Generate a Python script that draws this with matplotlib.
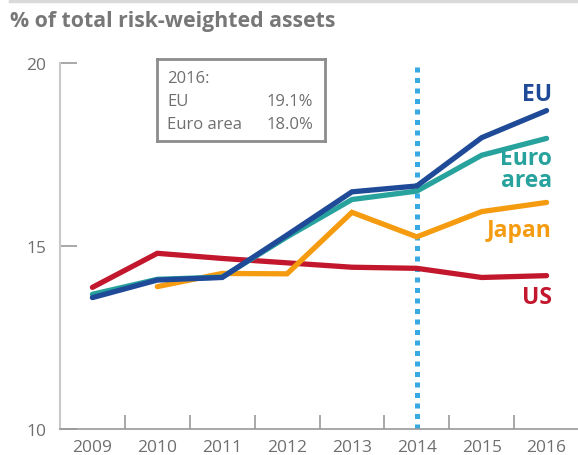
import matplotlib
matplotlib.use("Agg")
import matplotlib.pyplot as plt
import numpy as np

plt.rcParams["font.family"] = ["Open Sans", "DejaVu Sans"]

years = ["2009", "2010", "2011", "2012", "2013", "2014", "2015", "2016"]
eu = [13.59, 14.07, 14.14, 15.30, 16.48, 16.64, 17.96, 18.70]
euro_area = [13.68, 14.09, 14.15, 15.25, 16.27, 16.50, 17.48, 17.94]
japan = [np.nan, 13.89, 14.25, 14.24, 15.92, 15.25, 15.94, 16.19]
us = [13.87, 14.80, 14.66, 14.54, 14.42, 14.39, 14.14, 14.19]
marker_year = "2014"

c_eu = "#1f4a98"
c_ea = "#28a29c"
c_jp = "#f59b0f"
c_us = "#c2172d"
c_dot = "#38a9e3"
grey = "#6f6f6f"

fig = plt.figure(figsize=(5.78, 4.56), dpi=100)
ax = fig.add_axes([60 / 578, 26 / 456, 519 / 578, 366 / 456])

x = np.arange(len(years))
ax.axvline(years.index(marker_year), ymin=0, ymax=0.99, color=c_dot, lw=3.6,
           linestyle=(0, (1, 1.1)), zorder=1)
for vals, col in [(us, c_us), (japan, c_jp), (euro_area, c_ea), (eu, c_eu)]:
    ax.plot(x, vals, color=col, lw=3.8, solid_capstyle="round",
            solid_joinstyle="miter", zorder=3)

ax.set_xlim(-0.5, 7.5)
ax.set_ylim(10, 20)

# year labels sit between the boundary ticks
ax.set_xticks(np.arange(0.5, 7, 1))
ax.set_xticklabels([])
ax.set_xticks(x, minor=True)
ax.set_xticklabels(years, minor=True)
ax.tick_params(axis="x", which="major", direction="in", length=10,
               width=1.2, color="#9a9a9a")
ax.tick_params(axis="x", which="minor", length=0, pad=7,
               labelsize=12.5, labelcolor=grey)
ax.set_yticks([10, 15, 20])
ax.tick_params(axis="y", direction="in", length=12, width=1.2,
               color="#9a9a9a", labelsize=12.5, labelcolor=grey, pad=10)

for side in ["top", "right"]:
    ax.spines[side].set_visible(False)
ax.spines["left"].set_color("#c8c8c8")
ax.spines["left"].set_linewidth(1.5)
ax.spines["bottom"].set_color("#9a9a9a")
ax.spines["bottom"].set_linewidth(1.2)

# series names at the right-hand end
lab = dict(ha="right", fontsize=16.5, fontweight="bold", transform=ax.transData)
ax.text(7.08, 19.15, "EU", color=c_eu, va="center", **lab)
ax.text(7.08, 17.1, "Euro\narea", color=c_ea, va="center",
        linespacing=0.92, **lab)
ax.text(7.08, 15.45, "Japan", color=c_jp, va="center", **lab)
ax.text(7.08, 13.6, "US", color=c_us, va="center", **lab)

# 2016 summary box
box_ax = fig.add_axes([157 / 578, (456 - 142) / 456, 168 / 578, 82 / 456])
box_ax.set_xticks([])
box_ax.set_yticks([])
for s in box_ax.spines.values():
    s.set_color("#8c8c8c")
    s.set_linewidth(2)
box_ax.set_xlim(0, 1)
box_ax.set_ylim(0, 1)
bt = dict(fontsize=12, color=grey, va="center")
box_ax.text(0.06, 0.77, "2016:", ha="left", **bt)
box_ax.text(0.06, 0.49, "EU", ha="left", **bt)
box_ax.text(0.93, 0.49, "19.1%", ha="right", **bt)
box_ax.text(0.06, 0.21, "Euro area", ha="left", **bt)
box_ax.text(0.93, 0.21, "18.0%", ha="right", **bt)

fig.text(10 / 578, 1 - 21 / 456, "% of total risk-weighted assets",
         fontsize=15.3, fontweight="bold", color="#777777", va="center")
fig.add_artist(plt.Line2D([10 / 578, 1], [1 - 1.5 / 456] * 2, color="#d9d9d9",
                          lw=2.5))

fig.savefig("out.png", dpi=100)
